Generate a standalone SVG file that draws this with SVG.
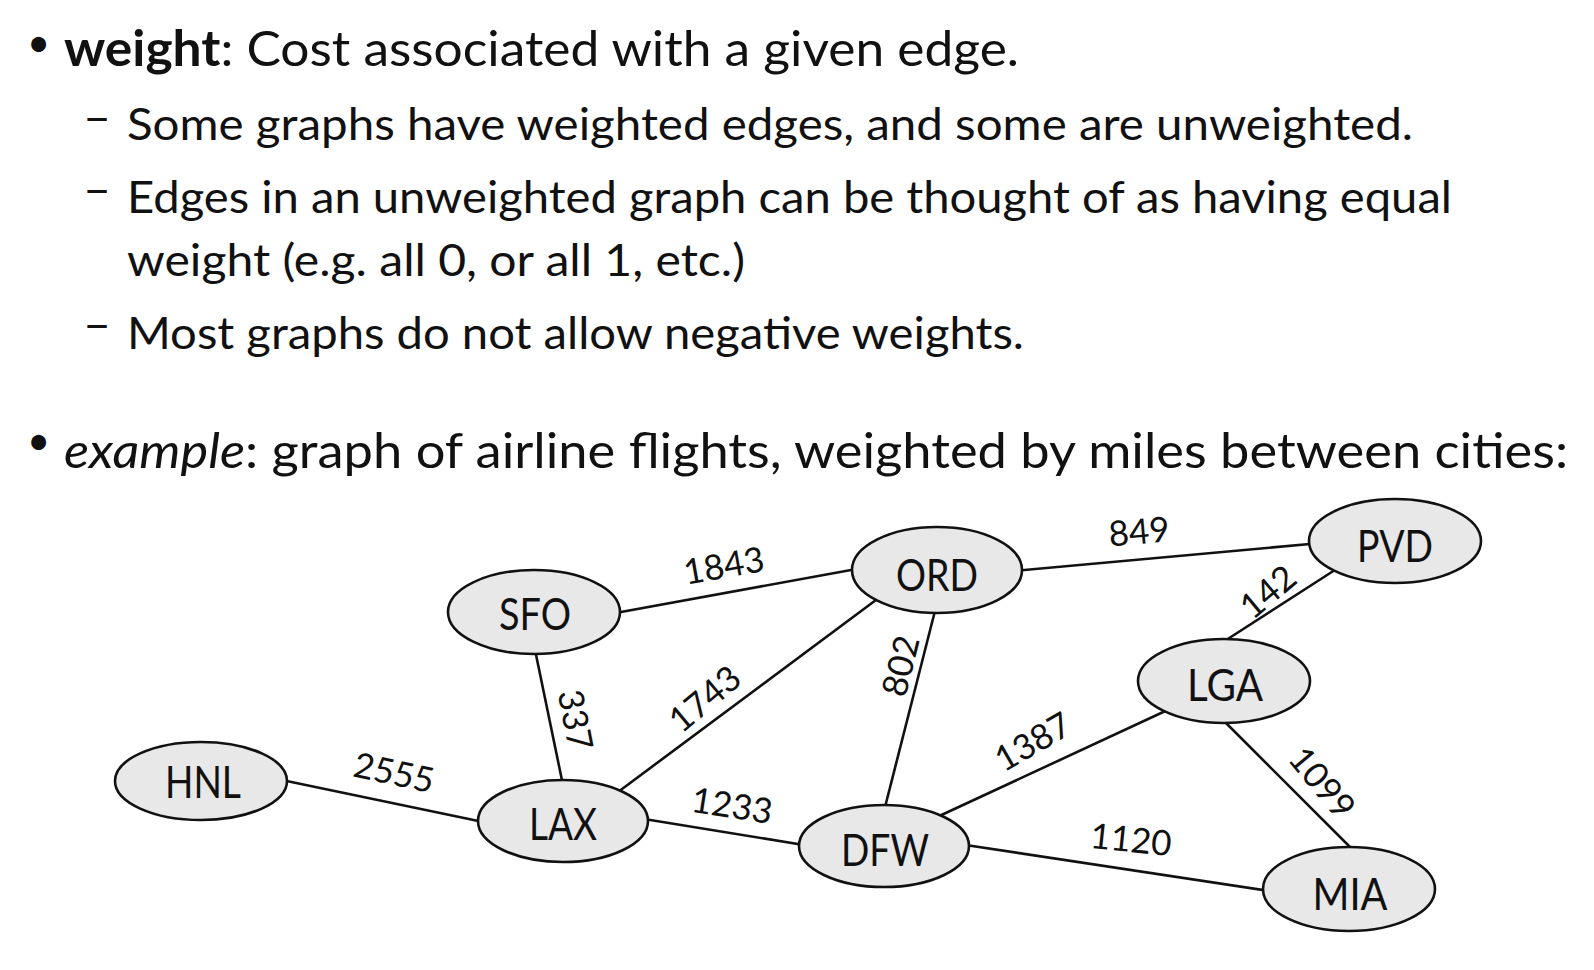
<svg xmlns="http://www.w3.org/2000/svg" width="1594" height="970" viewBox="0 0 1594 970">
<style>
.t{font-family:Lato,"Open Sans","Liberation Sans",sans-serif;fill:#111}
.big{font-size:49px}
.sub{font-size:44px}
.bul{font-size:40px}
.node ellipse{fill:#e8e8e8;stroke:#111;stroke-width:2.6}
.node text{font-family:Lato,"Liberation Sans",sans-serif;font-size:44px;fill:#111;text-anchor:middle}
.edges line{stroke:#111;stroke-width:2.6}
.lbl{font-family:Lato,"Liberation Sans",sans-serif;font-size:35px;fill:#111;text-anchor:middle}
</style>
<rect width="1594" height="970" fill="#fff"/>
<g id="text">
<text class="t bul" x="27" y="57">•</text>
<text class="t big" x="64" y="66" textLength="955" lengthAdjust="spacingAndGlyphs"><tspan font-weight="bold">weight</tspan>: Cost associated with a given edge.</text>
<text class="t sub" transform="translate(83,133) scale(1.1,1)">–</text>
<text class="t sub" x="127" y="140" textLength="1286" lengthAdjust="spacingAndGlyphs">Some graphs have weighted edges, and some are unweighted.</text>
<text class="t sub" transform="translate(83,205) scale(1.1,1)">–</text>
<text class="t sub" x="127" y="213" textLength="1325" lengthAdjust="spacingAndGlyphs">Edges in an unweighted graph can be thought of as having equal</text>
<text class="t sub" x="127" y="276" textLength="618" lengthAdjust="spacingAndGlyphs">weight (e.g. all 0, or all 1, etc.)</text>
<text class="t sub" transform="translate(83,340) scale(1.1,1)">–</text>
<text class="t sub" x="127" y="349" textLength="897" lengthAdjust="spacingAndGlyphs">Most graphs do not allow negative weights.</text>
<text class="t bul" x="27" y="455">•</text>
<text class="t big" x="64" y="468" textLength="1504" lengthAdjust="spacingAndGlyphs"><tspan font-style="italic">example</tspan>: graph of airline flights, weighted by miles between cities:</text>
</g>
<g class="edges" id="connectors">
<line x1="610" y1="614" x2="862" y2="568"/>
<line x1="1013" y1="571" x2="1321" y2="543"/>
<line x1="1338" y1="568" x2="1220" y2="644"/>
<line x1="534" y1="645" x2="564" y2="790"/>
<line x1="614" y1="795" x2="884" y2="594"/>
<line x1="937" y1="603" x2="883" y2="815"/>
<line x1="277" y1="779" x2="488" y2="823"/>
<line x1="638" y1="818" x2="810" y2="846"/>
<line x1="935" y1="818" x2="1174" y2="707"/>
<line x1="1220" y1="717" x2="1357" y2="854"/>
<line x1="959" y1="844" x2="1276" y2="892"/>
</g>
<g id="edge-labels">
<text class="lbl" transform="translate(724,566) rotate(-10)" dy="12">1843</text>
<text class="lbl" transform="translate(1139,532) rotate(-5)" dy="12">849</text>
<text class="lbl" transform="translate(1268,592) rotate(-40)" dy="12">142</text>
<text class="lbl" transform="translate(901,666) rotate(-76)" dy="12">802</text>
<text class="lbl" transform="translate(575,720) rotate(79)" dy="12">337</text>
<text class="lbl" transform="translate(705,699) rotate(-40)" dy="12">1743</text>
<text class="lbl" transform="translate(394,773) rotate(12)" dy="12">2555</text>
<text class="lbl" transform="translate(732,806) rotate(9)" dy="12">1233</text>
<text class="lbl" transform="translate(1033,742) rotate(-30)" dy="12">1387</text>
<text class="lbl" transform="translate(1322,783) rotate(50)" dy="12">1099</text>
<text class="lbl" transform="translate(1131,840) rotate(6)" dy="12">1120</text>
</g>
<g class="node" id="HNL"><ellipse cx="201" cy="781" rx="86" ry="39"/><text x="203" y="798" textLength="76" lengthAdjust="spacingAndGlyphs">HNL</text></g>
<g class="node" id="SFO"><ellipse cx="534" cy="612" rx="86" ry="42"/><text x="535" y="630" textLength="72" lengthAdjust="spacingAndGlyphs">SFO</text></g>
<g class="node" id="LAX"><ellipse cx="563" cy="821" rx="85" ry="41"/><text x="563" y="840" textLength="68" lengthAdjust="spacingAndGlyphs">LAX</text></g>
<g class="node" id="ORD"><ellipse cx="937" cy="570" rx="85" ry="43"/><text x="937" y="591" textLength="82" lengthAdjust="spacingAndGlyphs">ORD</text></g>
<g class="node" id="DFW"><ellipse cx="884" cy="846" rx="85" ry="41"/><text x="885" y="866" textLength="88" lengthAdjust="spacingAndGlyphs">DFW</text></g>
<g class="node" id="PVD"><ellipse cx="1395" cy="541" rx="86" ry="42"/><text x="1395" y="562" textLength="76" lengthAdjust="spacingAndGlyphs">PVD</text></g>
<g class="node" id="LGA"><ellipse cx="1224" cy="681" rx="86" ry="42"/><text x="1225" y="701" textLength="76" lengthAdjust="spacingAndGlyphs">LGA</text></g>
<g class="node" id="MIA"><ellipse cx="1349" cy="889" rx="86" ry="42"/><text x="1350" y="910" textLength="75" lengthAdjust="spacingAndGlyphs">MIA</text></g>
</svg>
